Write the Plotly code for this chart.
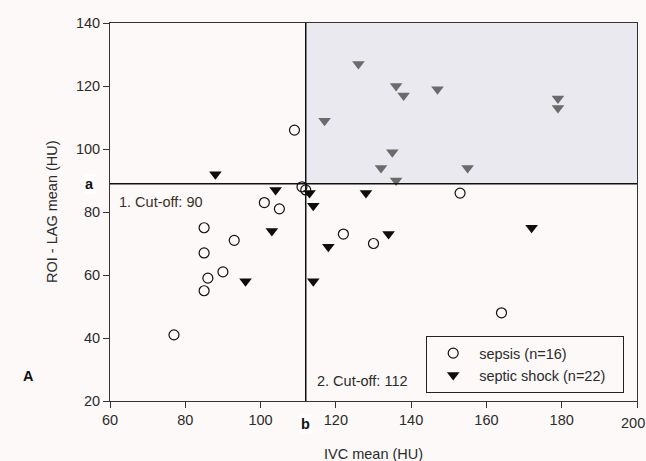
import plotly.graph_objects as go

# ---- data ----
sepsis_x = [77, 85, 85, 86, 85, 90, 93, 101, 105, 109, 111, 112, 122, 130, 153, 164]
sepsis_y = [41, 75, 67, 59, 55, 61, 71, 83, 81, 106, 88, 87, 73, 70, 86, 48]

shock_x = [88, 104, 113, 114, 103, 96, 114, 118, 128, 134, 172,
           126, 136, 138, 147, 117, 179, 179, 135, 132, 155, 136]
shock_y = [92, 87, 86, 82, 74, 58, 58, 69, 86, 73, 75,
           127, 120, 117, 119, 109, 116, 113, 99, 94, 94, 90]

cutoff_y = 89      # 1. cut-off (ROI - LAG)
cutoff_x = 112     # 2. cut-off (IVC)
x_range = [60, 200]
y_range = [20, 140]
x_ticks = [60, 80, 100, 120, 140, 160, 180]
y_ticks = [20, 40, 60, 80, 100, 120, 140]
last_x_tick = 200

BG = "#fcf9f8"
FONT = "Liberation Sans, Arial, sans-serif"
TXT = "#2b2b2b"
FS = 14.5
PAD = "\u00a0" * 3

# plot area in pixels (for paper-coordinate helpers)
L, R, T, B = 110, 637, 23, 401
W, H = R - L, B - T


def px(xp):
    return (xp - L) / W


def py(yp):
    return (B - yp) / H


shock_colors = ["#6b6b6b" if (x > cutoff_x and y > cutoff_y) else "#0d0d0d"
                for x, y in zip(shock_x, shock_y)]

fig = go.Figure()

# shaded quadrant
fig.add_shape(type="rect", xref="x", yref="y",
              x0=cutoff_x, x1=x_range[1], y0=cutoff_y, y1=y_range[1],
              fillcolor="#e9e9ef", line=dict(width=0), layer="below")

fig.add_trace(go.Scatter(
    x=sepsis_x, y=sepsis_y, mode="markers", name="sepsis (n=16)" + PAD,
    marker=dict(symbol="circle-open", size=10, color="#111111",
                line=dict(width=1.2, color="#111111"))))

fig.add_trace(go.Scatter(
    x=shock_x, y=shock_y, mode="markers", name="septic shock (n=22)" + PAD,
    marker=dict(symbol="triangle-down", size=11, color=shock_colors,
                line=dict(width=0))))

# cut-off lines
fig.add_shape(type="line", xref="x", yref="y",
              x0=x_range[0], x1=x_range[1], y0=cutoff_y, y1=cutoff_y,
              line=dict(color="#111111", width=1.5))
fig.add_shape(type="line", xref="x", yref="y",
              x0=cutoff_x, x1=cutoff_x, y0=y_range[0], y1=y_range[1],
              line=dict(color="#111111", width=1.5))

annots = [
    dict(x=61.8, y=83.2, xref="x", yref="y", text="1. Cut-off: 90",
         showarrow=False, xanchor="left", yanchor="middle",
         font=dict(size=FS, color="#3b2f25", family=FONT)),
    dict(x=114.5, y=26.5, xref="x", yref="y", text="2. Cut-off: 112",
         showarrow=False, xanchor="left", yanchor="middle",
         font=dict(size=FS, color=TXT, family=FONT)),
    dict(x=cutoff_x, y=py(424), xref="x", yref="paper", text="<b>b</b>",
         showarrow=False, xanchor="center", yanchor="middle",
         bgcolor="white", borderpad=1,
         font=dict(size=FS, color="#111111", family=FONT)),
    dict(x=px(89), y=cutoff_y, xref="paper", yref="y", text="<b>a</b>",
         showarrow=False, xanchor="center", yanchor="middle",
         bgcolor="white", borderpad=1,
         font=dict(size=FS, color="#111111", family=FONT)),
    dict(x=px(28), y=py(376), xref="paper", yref="paper", text="<b>A</b>",
         showarrow=False, xanchor="center", yanchor="middle",
         font=dict(size=FS, color="#111111", family=FONT)),
    dict(x=px(645.5), y=py(423), xref="paper", yref="paper", text=str(last_x_tick),
         showarrow=False, xanchor="right", yanchor="middle", borderpad=0,
         font=dict(size=FS, color=TXT, family=FONT)),
    dict(x=0.5, y=py(454), xref="paper", yref="paper", text="IVC mean (HU)",
         showarrow=False, xanchor="center", yanchor="middle",
         font=dict(size=FS, color=TXT, family=FONT)),
    dict(x=px(52), y=0.5, xref="paper", yref="paper", text="ROI - LAG mean (HU)",
         textangle=-90, showarrow=False, xanchor="center", yanchor="middle",
         font=dict(size=FS, color=TXT, family=FONT)),
]

fig.update_layout(
    width=646, height=461,
    margin=dict(l=L, r=646 - R, t=T, b=461 - B),
    paper_bgcolor=BG, plot_bgcolor=BG,
    font=dict(family=FONT, size=FS, color=TXT),
    showlegend=True,
    legend=dict(x=px(426), y=py(336), xanchor="left", yanchor="top",
                bgcolor=BG, bordercolor="#222222", borderwidth=1.2,
                font=dict(size=FS, color=TXT, family=FONT),
                tracegroupgap=0, itemwidth=42),
    annotations=annots,
)
fig.update_xaxes(range=x_range, tickvals=x_ticks + [last_x_tick],
                 ticktext=[str(v) for v in x_ticks] + [""],
                 showgrid=False, zeroline=False,
                 showline=True, linecolor="#333333", linewidth=1, mirror=True,
                 ticks="outside", ticklen=6, tickcolor="#333333",
                 tickfont=dict(size=FS, color=TXT))
fig.update_yaxes(range=y_range, tickvals=y_ticks, showgrid=False, zeroline=False,
                 showline=True, linecolor="#333333", linewidth=1, mirror=True,
                 ticks="outside", ticklen=6, tickcolor="#333333",
                 tickfont=dict(size=FS, color=TXT))

fig.write_html("out.html")
